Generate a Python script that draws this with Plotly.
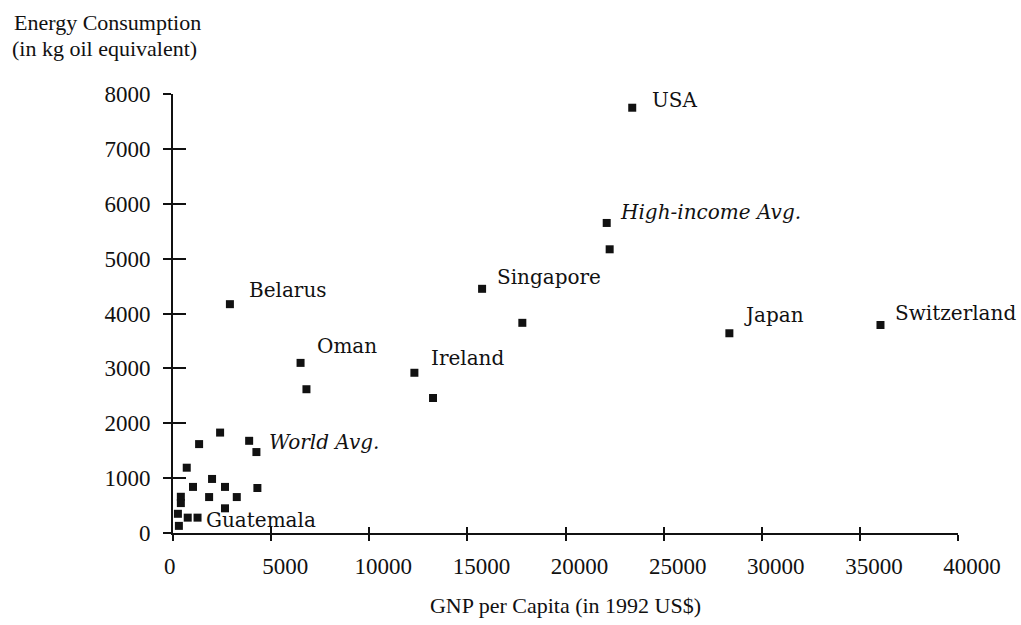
import plotly.graph_objects as go

# GNP per capita (1992 US$) and energy use per capita (kg oil equivalent)
gnp = [23400, 22100, 22250, 15750, 17800, 28350, 36050, 2900, 6500, 6800,
       12300, 13250, 4250, 3880, 2400, 1330, 700, 1990, 1020, 2650,
       4300, 1840, 3250, 400, 400, 250, 1250, 750, 2650, 300]
energy = [7750, 5650, 5170, 4450, 3830, 3640, 3790, 4170, 3100, 2620,
          2920, 2460, 1475, 1680, 1830, 1620, 1190, 985, 840, 840,
          820, 655, 655, 660, 545, 350, 280, 280, 450, 130]
names = ["USA", "High-income Avg.", "", "Singapore", "", "Japan", "Switzerland",
         "Belarus", "Oman", "", "Ireland", "", "World Avg.", "", "", "", "", "",
         "", "", "", "", "", "", "", "", "Guatemala", "", "", ""]

x_ticks = [0, 5000, 10000, 15000, 20000, 25000, 30000, 35000, 40000]
y_ticks = [0, 1000, 2000, 3000, 4000, 5000, 6000, 7000, 8000]
averages = {"High-income Avg.", "World Avg."}

# label placement relative to its marker (pixels)
label_offset = {
    "USA": (18, 8), "High-income Avg.": (11, 11), "Singapore": (13, 12),
    "Japan": (13, 18), "Switzerland": (13, 12), "Belarus": (17, 14),
    "Oman": (14, 17), "Ireland": (15, 15), "World Avg.": (11, 10),
    "Guatemala": (6, -2),
}

INK = "#111111"
SERIF = "Liberation Serif"
TICK_FONT = dict(family=SERIF, size=23, color=INK)
LABEL_FONT = dict(family="DejaVu Serif", size=20, color=INK)
CAPTION_FONT = dict(family=SERIF, size=22, color=INK)

fig = go.Figure()
fig.add_trace(go.Scatter(
    x=gnp, y=energy, mode="markers", text=names,
    marker=dict(symbol="square", size=8, color=INK),
    cliponaxis=False, showlegend=False,
))
# companion axes carry the inner half of the crossing tick marks
fig.add_trace(go.Scatter(x=[], y=[], xaxis="x2", yaxis="y2", showlegend=False))

for name, gx, ey in zip(names, gnp, energy):
    if not name:
        continue
    dx, dy = label_offset[name]
    txt = f"<i>{name}</i>" if name in averages else name
    fig.add_annotation(x=gx, y=ey, text=txt, showarrow=False,
                       xanchor="left", yanchor="middle",
                       xshift=dx, yshift=dy, font=LABEL_FONT)

# y-axis caption in the top-left corner, one line per annotation
for line, dx, dy in [("Energy Consumption", -161, 72),
                     ("(in kg oil equivalent)", -163, 46)]:
    fig.add_annotation(xref="paper", yref="paper", x=0, y=1,
                       xshift=dx, yshift=dy, xanchor="left", yanchor="middle",
                       showarrow=False, text=line, font=CAPTION_FONT)

x_text = [str(v) for v in x_ticks]
x_text[0] = "0\u2003\u2002"

axis_common = dict(showgrid=False, zeroline=False, showline=True,
                   linecolor=INK, linewidth=2, tickcolor=INK, tickwidth=2)

fig.update_layout(
    width=1021, height=625,
    margin=dict(l=173, r=63, t=94, b=92),
    plot_bgcolor="white", paper_bgcolor="white",
    xaxis=dict(range=[0, 40000], tickvals=x_ticks, ticktext=x_text,
               ticks="outside", ticklen=6, tickfont=TICK_FONT,
               ticklabelshift=14, ticklabelstandoff=5,
               title=dict(text="GNP per Capita (in 1992 US$)", standoff=20,
                          font=CAPTION_FONT),
               **axis_common),
    yaxis=dict(range=[0, 8000], tickvals=y_ticks, ticks="outside", ticklen=8,
               tickfont=TICK_FONT, ticklabelstandoff=8, **axis_common),
    xaxis2=dict(range=[0, 40000], tickvals=x_ticks, overlaying="x", anchor="y",
                ticks="inside", ticklen=6, tickcolor=INK, tickwidth=2,
                showticklabels=False, showline=False, showgrid=False, zeroline=False),
    yaxis2=dict(range=[0, 8000], tickvals=y_ticks, overlaying="y", anchor="x",
                ticks="inside", ticklen=13, tickcolor=INK, tickwidth=2,
                showticklabels=False, showline=False, showgrid=False, zeroline=False),
)

fig.write_html("out.html")
